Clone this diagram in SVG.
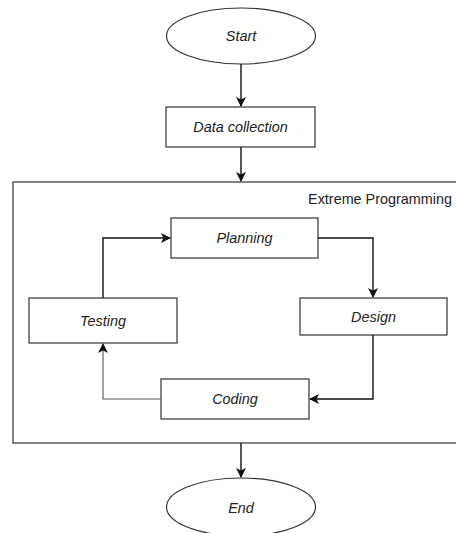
<svg xmlns="http://www.w3.org/2000/svg" width="456" height="533" viewBox="0 0 456 533">
<defs>
<marker id="ah" viewBox="0 0 10 10" refX="9" refY="5" markerWidth="10" markerHeight="10" markerUnits="userSpaceOnUse" orient="auto">
<path d="M0,0 L10,5 L0,10 L2.5,5 Z" fill="#111"/>
</marker>
</defs>
<style>
.n{fill:#fff;stroke:#333;stroke-width:1.2}
.t{font-family:"Liberation Sans",Arial,sans-serif;font-size:14.4px;font-style:italic;fill:#222;text-anchor:middle;dominant-baseline:central}
.c{fill:none;stroke:#111;stroke-width:1.4;marker-end:url(#ah)}
</style>
<rect width="456" height="533" fill="#fff"/>
<g id="container">
<rect x="13" y="182" width="446" height="261" fill="none" stroke="#444" stroke-width="1.3"/>
<text x="452" y="199" font-family="Liberation Sans,Arial,sans-serif" font-size="14.4" fill="#222" text-anchor="end" dominant-baseline="central">Extreme Programming</text>
</g>
<g id="start"><ellipse class="n" cx="241" cy="36" rx="74.5" ry="28"/><text class="t" x="241" y="36">Start</text></g>
<g id="data"><rect class="n" x="166" y="107" width="149" height="40"/><text class="t" x="240.5" y="127">Data collection</text></g>
<g id="planning"><rect class="n" x="171" y="218" width="147" height="40"/><text class="t" x="244.5" y="238">Planning</text></g>
<g id="testing"><rect class="n" x="29" y="298" width="148" height="45"/><text class="t" x="103" y="320.5">Testing</text></g>
<g id="design"><rect class="n" x="300" y="298" width="147" height="37"/><text class="t" x="373.5" y="316.5">Design</text></g>
<g id="coding"><rect class="n" x="161" y="379" width="148" height="40"/><text class="t" x="235" y="399">Coding</text></g>
<g id="end"><ellipse class="n" cx="241" cy="507" rx="74.5" ry="29"/><text class="t" x="241" y="508">End</text></g>
<g id="connectors">
<path class="c" d="M241,64 V106"/>
<path class="c" d="M241,147 V181"/>
<path class="c" d="M103,298 V238 H170"/>
<path class="c" d="M318,238 H373 V297"/>
<path class="c" d="M373,335 V399 H310"/>
<path class="c" d="M161,399 H103 V344" style="stroke:#555;stroke-width:1.1"/>
<path class="c" d="M241,443 V477"/>
</g>
</svg>
